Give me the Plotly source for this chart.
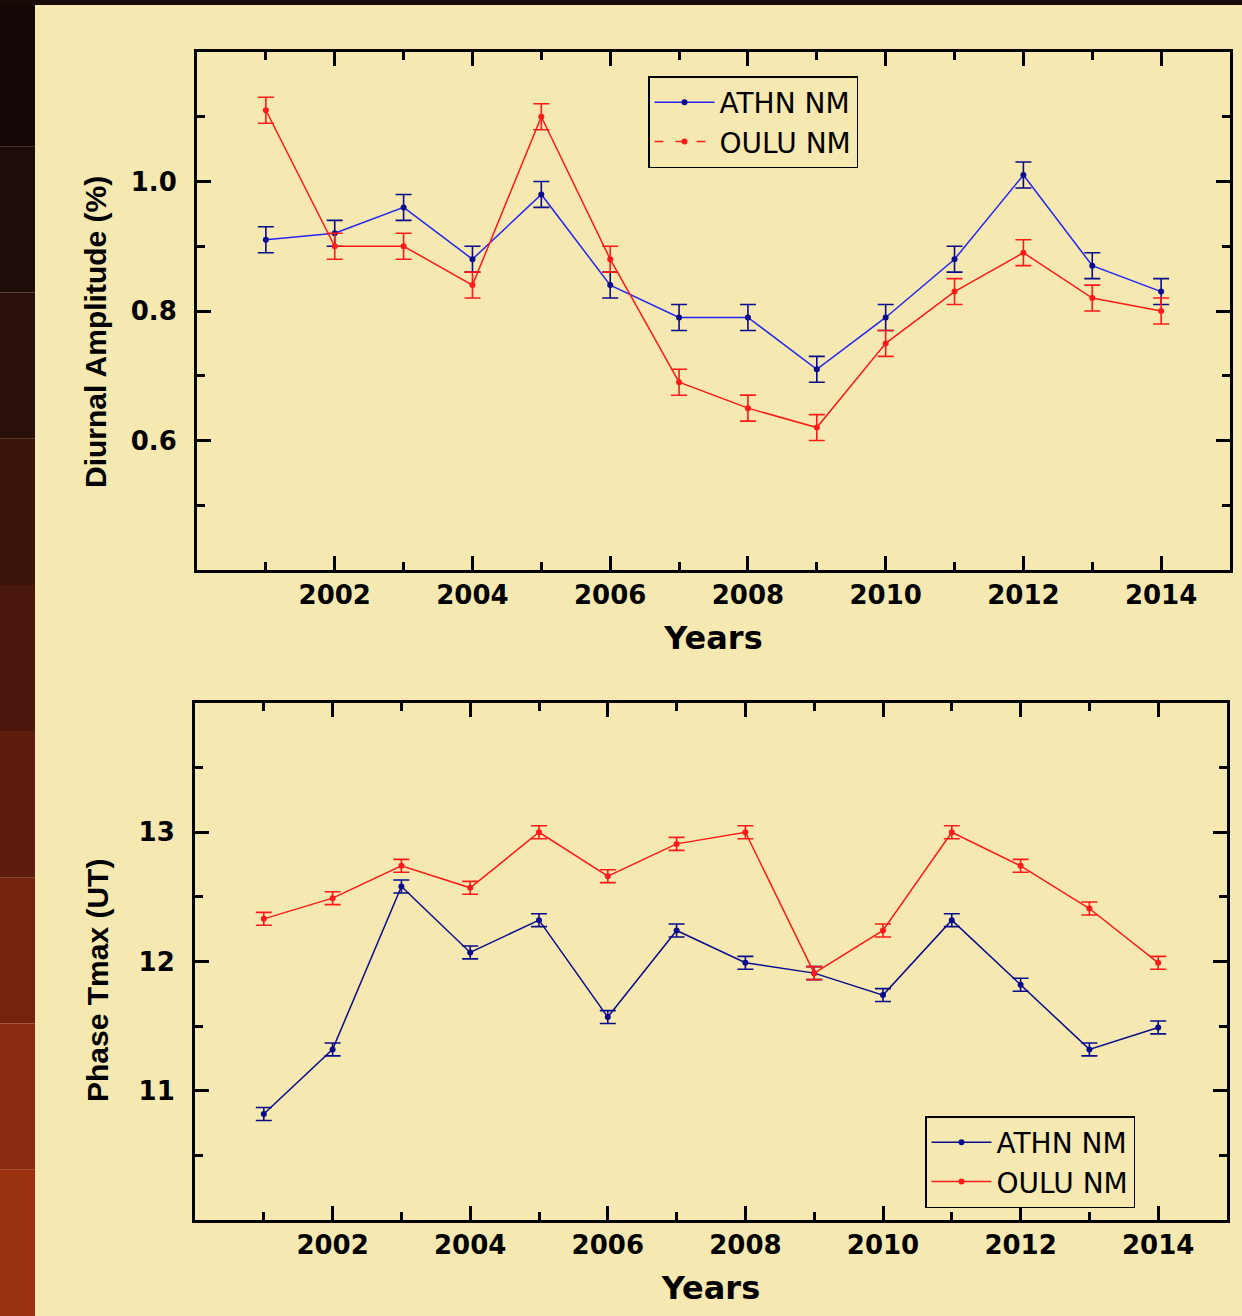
import plotly.graph_objects as go

years = [2001, 2002, 2003, 2004, 2005, 2006, 2007, 2008, 2009, 2010, 2011, 2012, 2013, 2014]

amp_athn = [0.91, 0.92, 0.96, 0.88, 0.98, 0.84, 0.79, 0.79, 0.71, 0.79, 0.88, 1.01, 0.87, 0.83]
amp_oulu = [1.11, 0.90, 0.90, 0.84, 1.10, 0.88, 0.69, 0.65, 0.62, 0.75, 0.83, 0.89, 0.82, 0.80]
amp_err_athn = [0.02] * 14
amp_err_oulu = [0.02] * 14

ph_athn = [10.82, 11.32, 12.58, 12.07, 12.32, 11.57, 12.24, 11.99, 11.91, 11.74, 12.32, 11.82, 11.32, 11.49]
ph_oulu = [12.33, 12.49, 12.74, 12.57, 13.00, 12.66, 12.91, 13.00, 11.91, 12.24, 13.00, 12.74, 12.41, 11.99]
ph_err_athn = [0.05] * 14
ph_err_oulu = [0.05] * 14

x_ticks = [2002, 2004, 2006, 2008, 2010, 2012, 2014]
amp_ticks = [0.6, 0.8, 1.0]
amp_ticktext = ["0.6", "0.8", "1.0"]
ph_ticks = [11, 12, 13]
ph_ticktext = ["11", "12", "13"]

BG = "#F5E9B1"
NAVY = "#0A0A8C"
BLUE = "#2424F0"
RED = "#FF1A1A"

W, H = 1242, 1316

fig = go.Figure()

def add_series(x, y, err, line_col, mark_col, name, xa, ya, legend, showlegend=True):
    fig.add_trace(go.Scatter(
        x=x, y=y, mode="lines+markers", name=name,
        line=dict(color=line_col, width=1.5),
        marker=dict(color=mark_col, size=6, symbol="circle"),
        error_y=dict(type="data", array=err, color=mark_col, thickness=1.6, width=8),
        xaxis=xa, yaxis=ya, legend=legend, showlegend=showlegend,
    ))

add_series(years, amp_athn, amp_err_athn, BLUE, NAVY, "ATHN NM", "x", "y", "legend")
add_series(years, amp_oulu, amp_err_oulu, RED, RED, "OULU NM", "x", "y", "legend", showlegend=False)
# legend entry for OULU in the top panel (dashed symbol as in the original)
fig.add_trace(go.Scatter(
    x=[None], y=[None], mode="lines+markers", name="OULU NM",
    line=dict(color=RED, width=1.5, dash="9px,12px"),
    marker=dict(color=RED, size=6), xaxis="x", yaxis="y", legend="legend",
))
add_series(years, ph_athn, ph_err_athn, NAVY, NAVY, "ATHN NM", "x2", "y2", "legend2")
add_series(years, ph_oulu, ph_err_oulu, RED, RED, "OULU NM", "x2", "y2", "legend2")

tick_font = dict(family="DejaVu Sans", size=26, color="black", weight="bold")
xtitle_font = dict(family="DejaVu Sans", size=32, color="black", weight="bold")
ytitle_font = dict(family="Liberation Sans, Arial", size=30, color="black", weight="bold")

def xaxis_cfg(domain, anchor):
    return dict(
        domain=domain, anchor=anchor, range=[2000, 2015],
        tickmode="array", tickvals=x_ticks, ticks="inside", ticklen=14, tickwidth=3,
        tickcolor="black", showline=True, linecolor="black", linewidth=3, mirror="ticks",
        showgrid=False, zeroline=False, tickfont=tick_font, ticklabelstandoff=0,
        minor=dict(tickmode="linear", tick0=2000, dtick=1, ticks="inside", ticklen=8, tickwidth=3, tickcolor="black"),
        title=dict(text="Years", font=xtitle_font, standoff=18),
    )

def yaxis_cfg(domain, anchor, rng, tv, tt, t0, dt):
    return dict(
        domain=domain, anchor=anchor, range=rng,
        tickmode="array", tickvals=tv, ticktext=tt, ticks="inside", ticklen=14, tickwidth=3,
        tickcolor="black", showline=True, linecolor="black", linewidth=3, mirror="ticks",
        showgrid=False, zeroline=False, tickfont=tick_font, ticklabelstandoff=12,
        minor=dict(tickmode="linear", tick0=t0, dtick=dt, ticks="inside", ticklen=8, tickwidth=3, tickcolor="black"),
    )

legend_font = dict(family="DejaVu Sans", size=28, color="black")

fig.update_layout(
    width=W, height=H,
    margin=dict(l=0, r=0, t=0, b=0),
    paper_bgcolor=BG, plot_bgcolor=BG,
    xaxis=xaxis_cfg([197 / W, 1230 / W], "y"),
    yaxis=yaxis_cfg([1 - 570 / H, 1 - 52 / H], "x", [0.4, 1.2], amp_ticks, amp_ticktext, 0.4, 0.1),
    xaxis2=xaxis_cfg([195 / W, 1227 / W], "y2"),
    yaxis2=yaxis_cfg([1 - 1220 / H, 1 - 703 / H], "x2", [10, 14], ph_ticks, ph_ticktext, 10, 0.5),
    legend=dict(x=648 / W, y=1 - 76 / H, xanchor="left", yanchor="top",
                bgcolor=BG, bordercolor="black", borderwidth=1.5,
                font=legend_font, itemwidth=60, tracegroupgap=0),
    legend2=dict(x=925 / W, y=1 - 1116 / H, xanchor="left", yanchor="top",
                 bgcolor=BG, bordercolor="black", borderwidth=1.5,
                 font=legend_font, itemwidth=60, tracegroupgap=0),
    showlegend=True,
)

# y-axis titles (placed slightly below the panel centre, as in the original)
fig.add_annotation(text="Diurnal Amplitude (%)", xref="paper", yref="paper",
                   x=95 / W, y=1 - 332 / H, showarrow=False, textangle=-90,
                   font=ytitle_font, xanchor="center", yanchor="middle")
fig.add_annotation(text="Phase Tmax (UT)", xref="paper", yref="paper",
                   x=97 / W, y=1 - 981 / H, showarrow=False, textangle=-90,
                   font=ytitle_font, xanchor="center", yanchor="middle")

# dark decorative frame (left strip and top strip) like the slide background
strip_cols = ["#140807", "#1e0c09", "#2a100b", "#3a130b", "#4a170c", "#5e1c0d", "#74230e", "#8a2a10", "#9a3212"]
n = len(strip_cols)
for i, c in enumerate(strip_cols):
    fig.add_shape(type="rect", xref="paper", yref="paper",
                  x0=0, x1=35 / W, y0=1 - (i + 1) / n, y1=1 - i / n,
                  fillcolor=c, line=dict(width=0), layer="below")
fig.add_shape(type="rect", xref="paper", yref="paper",
              x0=0, x1=1, y0=1 - 5 / H, y1=1,
              fillcolor="#1a0c08", line=dict(width=0), layer="below")

fig.write_html("out.html", config={"displayModeBar": False},
               post_script="document.body.style.margin='0px';")
